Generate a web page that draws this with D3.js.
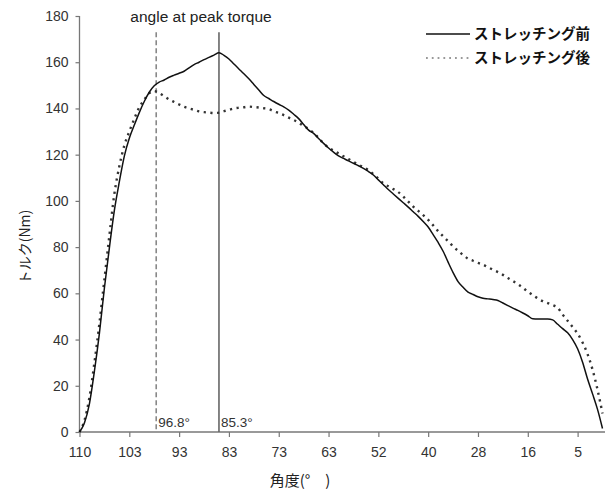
<!DOCTYPE html>
<html>
<head>
<meta charset="utf-8">
<script src="https://cdn.jsdelivr.net/npm/d3@7"></script>
<style>
body { margin: 0; background: #fff; }
text { font-family: "Liberation Sans", Arial, sans-serif; }
.jp { font-family: "Noto Sans CJK JP", sans-serif; }
</style>
</head>
<body>
<svg id="chart" width="608" height="493"></svg>
<script>
// angle labels shown under every 10th sample
const angleTicks = [110, 103, 93, 83, 73, 63, 52, 40, 28, 16, 5];
const torqueTicks = [0, 20, 40, 60, 80, 100, 120, 140, 160, 180];

// torque (Nm) per sample
const before = [0, 4, 12.3, 26.4, 42.8, 62.3, 79.7, 95.9, 108.3, 119.4,
	127.1, 132.8, 138.2, 143, 147, 149.8, 151.4, 152.3, 153.5, 154.4,
	155.2, 156.1, 157.6, 159, 160, 161.1, 162.1, 163.1, 164.1, 163,
	161.4, 159.2, 157.1, 155, 152.8, 150.4, 148, 145.6, 144.3, 143,
	141.8, 140.7, 139.3, 137.5, 135.6, 133.1, 130.6, 129.2, 127, 124.9,
	122.9, 121.1, 119.5, 118.4, 117.3, 116.3, 115.2, 114.1, 112.7, 111.2,
	109.1, 107, 104.9, 103, 101.1, 99.2, 97.3, 95.3, 93.3, 91.1,
	88.7, 85.4, 82, 78.2, 73.5, 69, 65.1, 62.6, 60.5, 59.5,
	58.5, 57.9, 57.6, 57.3, 56.9, 55.8, 54.7, 53.6, 52.6, 51.5,
	50.3, 49, 48.9, 48.9, 48.9, 48.5, 46.6, 44.7, 42.9, 40,
	36, 30.2, 22.9, 16.5, 9.8, 1.5];

const after = [0, 5, 15, 30, 47, 66, 85, 103, 115, 124,
	130, 135.5, 140.5, 143.8, 146.6, 147.5, 146.6, 145.3, 143.9, 142.8,
	141.7, 140.7, 140, 139.4, 138.7, 138.4, 138.2, 138, 138.2, 138.8,
	139.4, 140, 140.3, 140.5, 140.8, 140.6, 140.4, 140.1, 139.7, 138.8,
	138, 137.1, 136, 135, 133.9, 132.4, 131.1, 129.4, 127.2, 124.9,
	123, 121.8, 120.5, 119.3, 118.1, 116.9, 115.7, 114.5, 113.3, 111.6,
	109.6, 107.6, 106.3, 105.1, 103.8, 101.9, 99.7, 97.5, 95.7, 93.8,
	91.8, 89.4, 86.9, 84.7, 82.5, 80.3, 78.4, 76.6, 75, 74.1,
	73.2, 72.4, 71.3, 70.2, 69.2, 68, 66.6, 65.3, 64, 62.4,
	60.7, 59.2, 57.8, 56.6, 55.8, 54.9, 53.7, 50.8, 48.1, 45.4,
	42.6, 38.7, 33.7, 27, 18.3, 8];

const seriesNames = ["ストレッチング前", "ストレッチング後"];
const peakLabels = ["85.3°", "96.8°"];

const svg = d3.select("#chart");

const x = d3.scaleLinear().domain([0, 105.5]).range([79.5, 605]);
const y = d3.scaleLinear().domain([0, 180]).range([432, 16]);

// y axis
const yAxis = svg.append("g")
	.attr("transform", "translate(" + x(0) + ",0)")
	.call(d3.axisLeft(y).tickValues(torqueTicks).tickSize(4).tickPadding(7));
yAxis.select(".domain").attr("stroke", "#777").attr("stroke-width", 1.3).attr("d", "M0," + y(0) + "V" + y(180));
yAxis.selectAll(".tick line").attr("stroke", "#777").attr("stroke-width", 1.2);
yAxis.selectAll(".tick text")
	.attr("fill", "#333")
	.style("font-size", "14px")
	.style("font-family", "'Liberation Sans', Arial, sans-serif");

// x axis
const xAxis = svg.append("g")
	.attr("transform", "translate(0," + y(0) + ")")
	.call(d3.axisBottom(x)
		.tickValues(d3.range(0, angleTicks.length * 10, 10))
		.tickFormat((d, i) => angleTicks[i])
		.tickSize(5)
		.tickPadding(10));
xAxis.select(".domain").attr("stroke", "#777").attr("stroke-width", 1.6).attr("d", "M" + x(0) + ",0H" + x(105.5));
xAxis.selectAll(".tick line").attr("stroke", "#777").attr("stroke-width", 1.2);
xAxis.selectAll(".tick text")
	.attr("fill", "#333")
	.style("font-size", "14px")
	.style("font-family", "'Liberation Sans', Arial, sans-serif");

// peak-angle markers
const peaks = [
	{ idx: d3.maxIndex(before), label: peakLabels[0], dash: null, color: "#666" },
	{ idx: d3.maxIndex(after) + 0.4, label: peakLabels[1], dash: "5,3", color: "#888" }
];
peaks.forEach((p) => {
	svg.append("line")
		.attr("x1", x(p.idx)).attr("x2", x(p.idx))
		.attr("y1", y(173)).attr("y2", y(0))
		.attr("stroke", p.color)
		.attr("stroke-width", 1.6)
		.attr("stroke-dasharray", p.dash);
	svg.append("text")
		.attr("x", x(p.idx) + 2)
		.attr("y", y(0) - 5)
		.attr("fill", "#333")
		.style("font-size", "13.5px")
		.text(p.label);
});

svg.append("text")
	.attr("x", 201)
	.attr("y", 22)
	.attr("text-anchor", "middle")
	.attr("fill", "#222")
	.style("font-size", "15.5px")
	.text("angle at peak torque");

const line = d3.line()
	.x((d, i) => x(i))
	.y((d) => y(d))
	.curve(d3.curveMonotoneX);

svg.append("path")
	.datum(after)
	.attr("fill", "none")
	.attr("stroke", "#333")
	.attr("stroke-width", 2.4)
	.attr("stroke-dasharray", "2.2,4.5")
	.attr("d", line);

svg.append("path")
	.datum(before)
	.attr("fill", "none")
	.attr("stroke", "#111")
	.attr("stroke-width", 1.5)
	.attr("d", line);

// legend
const legend = svg.append("g").attr("transform", "translate(426, 34)");
seriesNames.forEach((name, i) => {
	legend.append("line")
		.attr("x1", 0).attr("x2", 44)
		.attr("y1", i * 24).attr("y2", i * 24)
		.attr("stroke", i === 0 ? "#111" : "#999")
		.attr("stroke-width", i === 0 ? 1.5 : 1.8)
		.attr("stroke-dasharray", i === 0 ? null : "1.8,4");
	legend.append("text")
		.attr("class", "jp")
		.attr("x", 48)
		.attr("y", i * 24 + 5)
		.attr("fill", "#111")
		.style("font-size", "14.5px")
		.style("font-weight", "bold")
		.text(name);
});

// axis titles
svg.append("text")
	.attr("class", "jp")
	.attr("x", 300)
	.attr("y", 486)
	.attr("text-anchor", "middle")
	.attr("fill", "#222")
	.style("font-size", "15px")
	.text("角度(°\u2003)");

svg.append("text")
	.attr("class", "jp")
	.attr("transform", "translate(30, 247) rotate(-90)")
	.attr("text-anchor", "middle")
	.attr("fill", "#222")
	.style("font-size", "14px")
	.text("トルク(Nm)");
</script>
</body>
</html>
